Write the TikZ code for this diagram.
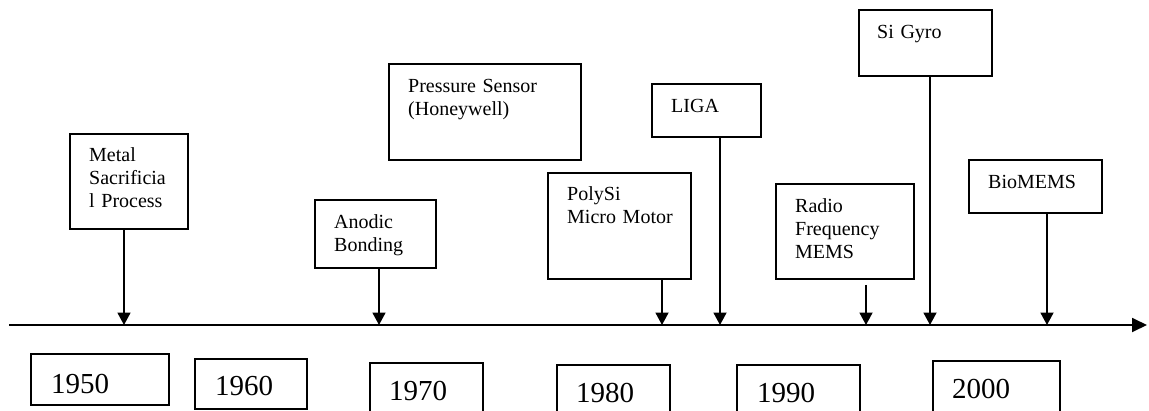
\documentclass[tikz,border=0pt]{standalone}
\usepackage{fontspec}
\setmainfont{Liberation Serif}
\usetikzlibrary{arrows.meta}
\tikzset{
  evbox/.style={draw, line width=1.8pt, inner sep=0pt, anchor=north west},
  yrbox/.style={draw, line width=1.8pt, inner sep=0pt, anchor=north west},
  evtext/.style={inner sep=0pt, anchor=base west, align=left, text width=150pt,
                 font=\fontsize{20}{23}\selectfont},
  yrtext/.style={inner sep=0pt, anchor=base west, font=\fontsize{29}{33}\selectfont},
  evarrow/.style={line width=1.8pt, -{Triangle[length=12.5pt,width=13pt]}},
  axisarrow/.style={line width=1.8pt, -{Triangle[length=15pt,width=14pt]}},
}
\begin{document}
\begin{tikzpicture}[x=1pt,y=-1pt]
\useasboundingbox (0,0) rectangle (1149,410);
\clip (0,0) rectangle (1149,410);

% time axis
\coordinate (ax0) at (9,325);
\coordinate (ax1) at (1147,325);
\draw[axisarrow] (ax0) -- (ax1);

% event boxes
\node[evbox, minimum width=118pt, minimum height=95pt] (metal) at (69,133) {};
\node[evtext] (metal-t) at ([shift={(20,28)}]metal.north west) {Metal\\Sacrificia\\l Process};

\node[evbox, minimum width=121pt, minimum height=68pt] (anodic) at (314,199) {};
\node[evtext] (anodic-t) at ([shift={(20,29)}]anodic.north west) {Anodic\\Bonding};

\node[evbox, minimum width=192pt, minimum height=96pt] (pressure) at (388,63) {};
\node[evtext, text width=190pt] (pressure-t) at ([shift={(20,29)}]pressure.north west) {Pressure Sensor\\(Honeywell)};

\node[evbox, minimum width=109pt, minimum height=53pt] (liga) at (651,83) {};
\node[evtext] (liga-t) at ([shift={(20,29)}]liga.north west) {LIGA};

\node[evbox, minimum width=143pt, minimum height=106pt] (polysi) at (547,172) {};
\node[evtext] (polysi-t) at ([shift={(20,28)}]polysi.north west) {PolySi\\Micro Motor};

\node[evbox, minimum width=138pt, minimum height=95pt] (radio) at (775,183) {};
\node[evtext] (radio-t) at ([shift={(20,29)}]radio.north west) {Radio\\Frequency\\MEMS};

\node[evbox, minimum width=133pt, minimum height=66pt] (sigyro) at (858,9) {};
\node[evtext] (sigyro-t) at ([shift={(19,29)}]sigyro.north west) {Si Gyro};

\node[evbox, minimum width=133pt, minimum height=53pt] (biomems) at (968,159) {};
\node[evtext] (biomems-t) at ([shift={(20,29)}]biomems.north west) {BioMEMS};

% arrow targets on the axis
\coordinate (a1) at (124,325);
\coordinate (a2) at (379,325);
\coordinate (a3) at (662,325);
\coordinate (a4) at (720,325);
\coordinate (a5) at (866,325);
\coordinate (a6) at (930,325);
\coordinate (a7) at (1047,325);

\draw[evarrow] (metal.south -| a1) -- (a1);
\draw[evarrow] (anodic.south -| a2) -- (a2);
\draw[evarrow] (polysi.south -| a3) -- (a3);
\draw[evarrow] (liga.south -| a4) -- (a4);
\draw[evarrow] ([yshift=-5pt]radio.south -| a5) -- (a5);
\draw[evarrow] (sigyro.south -| a6) -- (a6);
\draw[evarrow] (biomems.south -| a7) -- (a7);

% decade boxes
\node[yrbox, minimum width=138pt, minimum height=51pt] (y1950) at (30,353) {};
\node[yrtext] (y1950-t) at ([shift={(21,40)}]y1950.north west) {1950};

\node[yrbox, minimum width=112pt, minimum height=50pt] (y1960) at (194,358) {};
\node[yrtext] (y1960-t) at ([shift={(21,37)}]y1960.north west) {1960};

\node[yrbox, minimum width=113pt, minimum height=56pt] (y1970) at (369,362) {};
\node[yrtext] (y1970-t) at ([shift={(20,38)}]y1970.north west) {1970};

\node[yrbox, minimum width=113pt, minimum height=54pt] (y1980) at (556,364) {};
\node[yrtext] (y1980-t) at ([shift={(20,38)}]y1980.north west) {1980};

\node[yrbox, minimum width=123pt, minimum height=54pt] (y1990) at (736,364) {};
\node[yrtext] (y1990-t) at ([shift={(21,38)}]y1990.north west) {1990};

\node[yrbox, minimum width=127pt, minimum height=58pt] (y2000) at (932,360) {};
\node[yrtext] (y2000-t) at ([shift={(20,38)}]y2000.north west) {2000};
\end{tikzpicture}
\end{document}
